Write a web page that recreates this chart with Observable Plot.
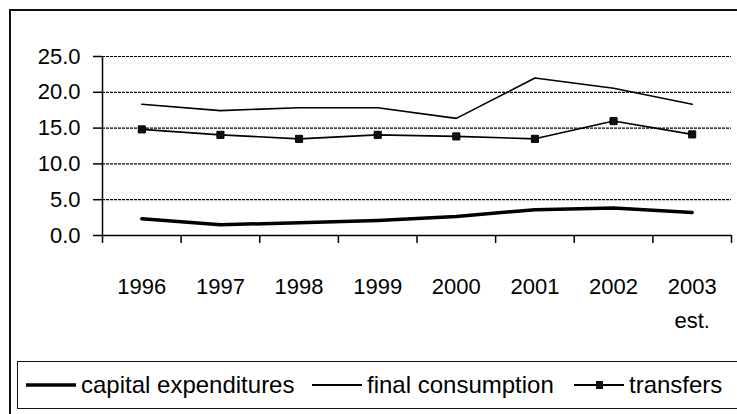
<!DOCTYPE html>
<html>
<head>
<meta charset="utf-8">
<script src="https://cdn.jsdelivr.net/npm/d3@7"></script>
<script src="https://cdn.jsdelivr.net/npm/@observablehq/plot@0.6"></script>
<style>
  html, body { margin: 0; padding: 0; background: #fff; }
  #wrap { position: relative; width: 737px; height: 414px; overflow: hidden; background: #fff;
          font-family: "Liberation Sans", Arial, sans-serif; color: #000; }
  #frame { position: absolute; left: 9px; top: 9px; width: 900px; height: 600px;
           border-left: 2px solid #111; border-top: 2px solid #111; }
  #chart { position: absolute; left: 0; top: 0; }
  #legend { position: absolute; left: 17px; top: 361px; width: 800px; height: 46px;
            border: 1.5px solid #111; background: #fff; }
  .item { position: absolute; top: 0; height: 46px; display: flex; align-items: center; font-size: 24px; white-space: nowrap; }
  .item svg { display: block; margin-right: 5px; }
</style>
</head>
<body>
<div id="wrap">
  <div id="frame"></div>
  <div id="chart"></div>
  <div id="legend"></div>
</div>
<script>
const years = [1996, 1997, 1998, 1999, 2000, 2001, 2002, 2003];
const yearLabels = ["1996", "1997", "1998", "1999", "2000", "2001", "2002", "2003\nest."];
const capitalExpenditures = [2.34, 1.50, 1.78, 2.10, 2.66, 3.60, 3.83, 3.22];
const finalConsumption = [18.33, 17.44, 17.85, 17.85, 16.36, 22.0, 20.57, 18.33];
const transfers = [14.82, 14.06, 13.50, 14.06, 13.84, 13.50, 15.98, 14.12];
const yTicks = [0, 5, 10, 15, 20, 25];
const seriesNames = ["capital expenditures", "final consumption", "transfers"];

const rows = (vals) => years.map((y, i) => ({year: y, value: vals[i]}));
const capRows = rows(capitalExpenditures);
const finRows = rows(finalConsumption);
const trRows = rows(transfers);

const x0 = years[0] - 0.5, x1 = years[years.length - 1] + 0.5;
const boundaries = d3.range(x0, x1 + 0.01, 1);

const chart = Plot.plot({
  width: 737,
  height: 414,
  marginLeft: 102,
  marginRight: 6,
  marginTop: 56,
  marginBottom: 179,
  style: {fontFamily: "'Liberation Sans', Arial, sans-serif", background: "transparent", color: "#000"},
  x: {type: "linear", domain: [x0, x1]},
  y: {domain: [0, 25]},
  marks: [
    Plot.gridY(yTicks.filter(d => d > 0), {stroke: "#000", strokeOpacity: 1, strokeWidth: 1.2, strokeDasharray: "3,1"}),
    Plot.ruleY([0], {stroke: "#000", strokeWidth: 1.5}),
    Plot.ruleX([x0], {y1: 0, y2: 25, stroke: "#000", strokeWidth: 1.5}),
    Plot.axisY({ticks: yTicks, tickFormat: d => d.toFixed(1), tickSize: 9, tickPadding: 13,
                fontSize: 22, label: null, strokeWidth: 1.5}),
    Plot.axisX({ticks: boundaries, tickSize: 8, tickFormat: () => "", label: null, strokeWidth: 1.5}),
    Plot.axisX({ticks: years, tickSize: 0, tickPadding: 34, tickFormat: (d, i) => yearLabels[i],
                fontSize: 22, lineHeight: 1.55, label: null}),
    Plot.line(capRows, {x: "year", y: "value", stroke: "#000", strokeWidth: 3.5}),
    Plot.line(finRows, {x: "year", y: "value", stroke: "#000", strokeWidth: 1.6}),
    Plot.line(trRows, {x: "year", y: "value", stroke: "#000", strokeWidth: 1.6}),
    Plot.dot(trRows, {x: "year", y: "value", symbol: "square", r: 4, fill: "#111", stroke: "#000", strokeWidth: 1})
  ]
});
document.getElementById("chart").appendChild(chart);

// Legend
const legend = document.getElementById("legend");
const items = [
  {name: seriesNames[0], left: 8, width: 3.5, marker: false},
  {name: seriesNames[1], left: 294, width: 1.8, marker: false},
  {name: seriesNames[2], left: 556, width: 1.8, marker: true}
];
for (const it of items) {
  const div = document.createElement("div");
  div.className = "item";
  div.style.left = it.left + "px";
  const svg = d3.create("svg").attr("width", 50).attr("height", 14);
  svg.append("line").attr("x1", 0).attr("x2", 50).attr("y1", 7).attr("y2", 7)
     .attr("stroke", "#000").attr("stroke-width", it.width);
  if (it.marker) svg.append("rect").attr("x", 22).attr("y", 3).attr("width", 7).attr("height", 8).attr("fill", "#111");
  div.appendChild(svg.node());
  const span = document.createElement("span");
  span.textContent = it.name;
  div.appendChild(span);
  legend.appendChild(div);
}
</script>
</body>
</html>
